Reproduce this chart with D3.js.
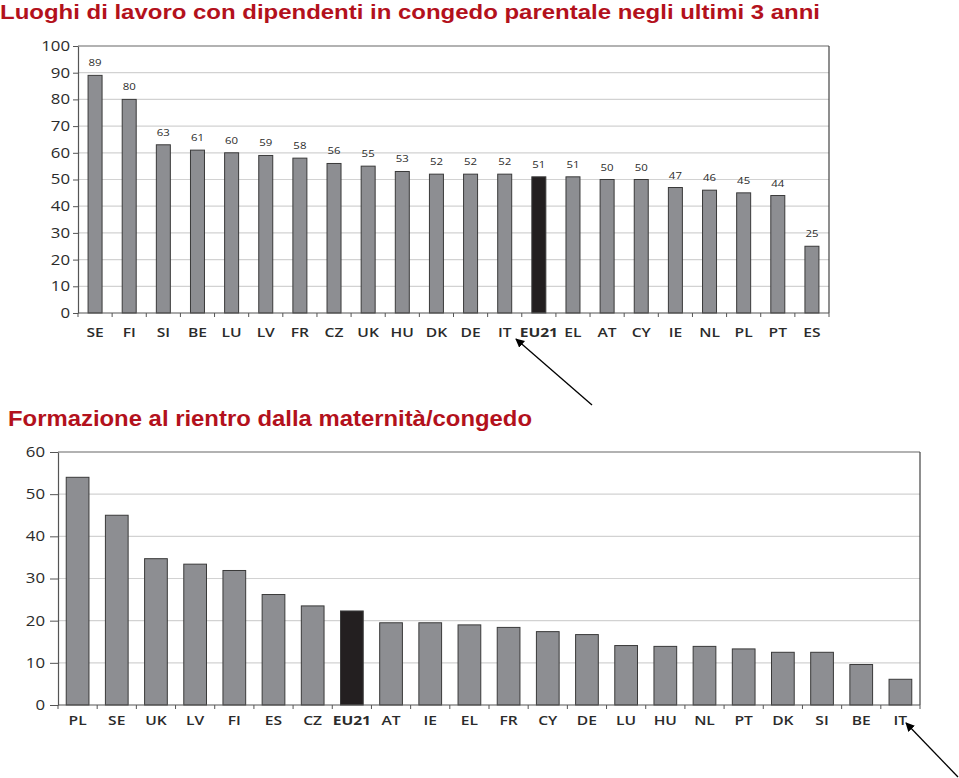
<!DOCTYPE html>
<html><head><meta charset="utf-8">
<script src="https://cdn.jsdelivr.net/npm/d3@7"></script>
<style>body{margin:0;background:#fff}svg{display:block}</style>
</head><body>
<svg id="c" width="959" height="778"></svg>
<script>
const title1 = "Luoghi di lavoro con dipendenti in congedo parentale negli ultimi 3 anni";
const title2 = "Formazione al rientro dalla maternità/congedo";
const cats1 = ["SE","FI","SI","BE","LU","LV","FR","CZ","UK","HU","DK","DE","IT","EU21","EL","AT","CY","IE","NL","PL","PT","ES"];
const vals1 = [89,80,63,61,60,59,58,56,55,53,52,52,52,51,51,50,50,47,46,45,44,25];
const ticks1 = [0,10,20,30,40,50,60,70,80,90,100];
const cats2 = ["PL","SE","UK","LV","FI","ES","CZ","EU21","AT","IE","EL","FR","CY","DE","LU","HU","NL","PT","DK","SI","BE","IT"];
const vals2 = [54,45,34.7,33.4,31.9,26.2,23.5,22.3,19.5,19.5,19.0,18.4,17.4,16.7,14.1,13.9,13.9,13.3,12.5,12.5,9.6,6.1];
const ticks2 = [0,10,20,30,40,50,60];
const highlight = "EU21";

const svg = d3.select("#c");
const red = "#b3111c", grey = "#8d8e92", dark = "#231f20", txt = "#2b2b2b";
const SX = 1.2;

function stretch(sel, f){
  sel.each(function(){
    const w = this.getComputedTextLength();
    d3.select(this).attr("textLength", w*f).attr("lengthAdjust","spacingAndGlyphs");
  });
}

svg.append("defs").append("marker").attr("id","ah").attr("viewBox","0 0 10 10")
  .attr("refX",9).attr("refY",5).attr("markerWidth",9).attr("markerHeight",9)
  .attr("markerUnits","userSpaceOnUse").attr("orient","auto")
  .append("path").attr("d","M0,0L10,5L0,10z").attr("fill","#000");

function title(t, x, y, size, len){
  svg.append("text").attr("x",x).attr("y",y).text(t)
    .attr("font-family","Liberation Sans, Arial, sans-serif").attr("font-weight","bold")
    .attr("font-size",size).attr("fill",red)
    .attr("textLength",len).attr("lengthAdjust","spacingAndGlyphs");
}

function chart(cfg){
  const {cats, vals, ticks, x0, x1, y0, y1, pad, showLabels, labY} = cfg;
  const x = d3.scaleBand().domain(cats).range([x0,x1]).paddingInner(pad).paddingOuter(pad/2);
  const y = d3.scaleLinear().domain([0, d3.max(ticks)]).range([y0,y1]);
  const g = svg.append("g");
  g.selectAll(".grid").data(ticks.slice(1,-1)).join("line")
    .attr("x1",x0).attr("x2",x1).attr("y1",d=>y(d)).attr("y2",d=>y(d))
    .attr("stroke","#d2d2d2").attr("stroke-width",1.2);
  g.append("line").attr("x1",x0).attr("x2",x1).attr("y1",y(d3.max(ticks))).attr("y2",y(d3.max(ticks)))
    .attr("stroke","#666").attr("stroke-width",1.2);
  g.append("line").attr("x1",x1).attr("x2",x1).attr("y1",y1).attr("y2",y0)
    .attr("stroke","#444").attr("stroke-width",1.2);
  const ya = d3.axisLeft(y).tickValues(ticks).tickSize(cfg.ytk).tickSizeOuter(0).tickPadding(cfg.ypad);
  const yg = g.append("g").attr("transform",`translate(${x0},0)`).call(ya);
  yg.select(".domain").attr("stroke","#555").attr("stroke-width",1.2);
  yg.selectAll(".tick line").attr("stroke","#555");
  yg.selectAll("text").attr("font-family","Open Sans, sans-serif").attr("font-size",cfg.yfs).attr("fill",txt);
  stretch(yg.selectAll("text"), SX);
  g.selectAll(".bar").data(cats).join("rect")
    .attr("x",d=>x(d)).attr("width",x.bandwidth())
    .attr("y",(d,i)=>y(vals[i])).attr("height",(d,i)=>y0-y(vals[i]))
    .attr("fill",d=>d===highlight?dark:grey).attr("stroke","#3a3a3a").attr("stroke-width",1);
  const xa = d3.scaleLinear().domain([0,cats.length]).range([x0,x1]);
  g.append("line").attr("x1",x0).attr("x2",x1).attr("y1",y0).attr("y2",y0).attr("stroke","#555").attr("stroke-width",1.2);
  g.selectAll(".xt").data(d3.range(cats.length+1)).join("line")
    .attr("x1",d=>xa(d)).attr("x2",d=>xa(d)).attr("y1",y0).attr("y2",y0+4).attr("stroke","#555");
  const xl = g.selectAll(".xl").data(cats).join("text")
    .attr("x",d=>x(d)+x.bandwidth()/2).attr("y",labY).attr("text-anchor","middle")
    .attr("font-family","Open Sans, sans-serif").attr("font-size",cfg.xfs)
    .attr("font-weight",d=>d===highlight?"bold":"600").attr("fill",txt).text(d=>d);
  stretch(xl, SX);
  if(showLabels){
    const vl = g.selectAll(".vl").data(cats).join("text")
      .attr("x",d=>x(d)+x.bandwidth()/2).attr("y",(d,i)=>y(vals[i])-9).attr("text-anchor","middle")
      .attr("font-family","Open Sans, sans-serif").attr("font-size",9.5).attr("fill",txt)
      .text((d,i)=>vals[i]);
    stretch(vl, SX);
  }
}

title(title1, 0, 19, 20, 820);
chart({cats:cats1, vals:vals1, ticks:ticks1, x0:78, x1:829, y0:313, y1:46, pad:0.59, showLabels:true, labY:337, yfs:14, xfs:13, ytk:5, ypad:3});
title(title2, 8, 426, 22, 524);
chart({cats:cats2, vals:vals2, ticks:ticks2, x0:58, x1:920, y0:705, y1:452, pad:0.42, showLabels:false, labY:725, yfs:14, xfs:13, ytk:8, ypad:5});

svg.append("line").attr("x1",592).attr("y1",405).attr("x2",516).attr("y2",339)
  .attr("stroke","#000").attr("stroke-width",1.3).attr("marker-end","url(#ah)");
svg.append("line").attr("x1",958).attr("y1",777).attr("x2",906).attr("y2",723)
  .attr("stroke","#000").attr("stroke-width",1.3).attr("marker-end","url(#ah)");
</script>
</body></html>
